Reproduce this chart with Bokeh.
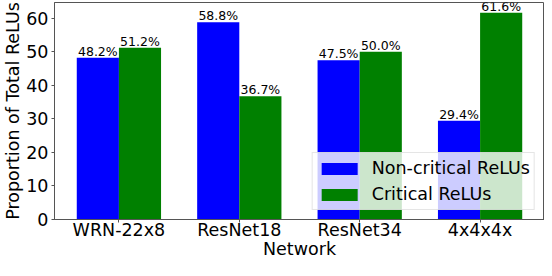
from bokeh.plotting import figure
from bokeh.models import ColumnDataSource, Legend, LegendItem, FixedTicker, Range1d, Title
from bokeh.core.properties import value
from bokeh.embed import file_html
from bokeh.resources import INLINE

networks = ["WRN-22x8", "ResNet18", "ResNet34", "4x4x4x"]
non_critical = [48.2, 58.8, 47.5, 29.4]
critical = [51.2, 36.7, 50.0, 61.6]
series_names = ["Non-critical ReLUs", "Critical ReLUs"]
colors = ["#0000ff", "#008000"]
y_ticks = [0, 10, 20, 30, 40, 50, 60]
x_title = "Network"
y_title = "Proportion of Total ReLUs"

FONT = "DejaVu Sans"
W = 0.35
idx = list(range(len(networks)))

p = figure(width=544, height=260, output_backend="svg", toolbar_location=None,
           x_range=Range1d(-0.535, 3.535), y_range=Range1d(0, 64.68),
           min_border_left=46, min_border_right=0, min_border_top=2, min_border_bottom=41)
p.background_fill_color = "white"
p.border_fill_color = "white"
p.xgrid.visible = False
p.ygrid.visible = False
p.outline_line_color = "#555555"
p.outline_line_width = 1

renderers = []
for k, (vals, col) in enumerate(zip([non_critical, critical], colors)):
    xs = [i + (k - 0.5) * W for i in idx]
    src = ColumnDataSource(dict(x=xs, top=vals, lab=[f"{v:.1f}%" for v in vals]))
    r = p.vbar(x="x", top="top", width=W, bottom=0, source=src, fill_color=col, line_color=None)
    renderers.append(r)
    p.text(x="x", y="top", text="lab", source=src, text_align="center", text_baseline="bottom",
           text_font=value(FONT), text_font_size="12.5px", text_color="black", y_offset=1)

for ax in (p.xaxis[0], p.yaxis[0]):
    ax.axis_line_color = "#555555"
    ax.major_tick_line_color = "#555555"
    ax.minor_tick_line_color = None
    ax.major_tick_out = 3
    ax.major_tick_in = 0
    ax.major_label_text_font = FONT
    ax.major_label_text_font_size = "17.5px"
    ax.major_label_text_color = "black"
    ax.axis_label_text_font = FONT
    ax.axis_label_text_font_size = "17.5px"
    ax.axis_label_text_font_style = "normal"
    ax.axis_label_text_color = "black"

p.xaxis.major_label_standoff = -3
p.yaxis.major_label_standoff = 3
p.yaxis.axis_label_standoff = 0

p.xaxis.ticker = FixedTicker(ticks=idx)
p.xaxis.major_label_overrides = {i: n for i, n in zip(idx, networks)}
p.yaxis.ticker = FixedTicker(ticks=y_ticks)
p.yaxis.axis_label = y_title

p.add_layout(Title(text=x_title, align="center", vertical_align="bottom", standoff=-12,
                   text_font=FONT, text_font_size="17.5px", text_font_style="normal",
                   text_color="black"), "below")

legend = Legend(items=[LegendItem(label=n, renderers=[r]) for n, r in zip(series_names, renderers)],
                location="bottom_right", margin=9, padding=4, spacing=4,
                glyph_width=45, glyph_height=15, label_standoff=10, label_height=22,
                label_text_font=FONT, label_text_font_size="17.5px", label_text_color="black",
                background_fill_color="white", background_fill_alpha=0.8,
                border_line_color="#cccccc", border_line_width=1)
p.add_layout(legend, "center")

open("out.html", "w").write(file_html(p, INLINE))
